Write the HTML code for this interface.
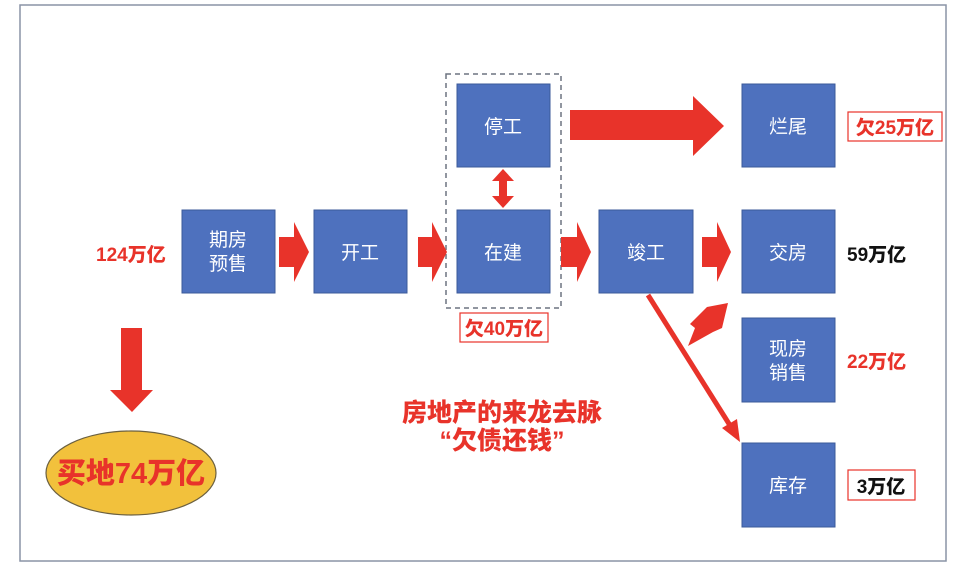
<!DOCTYPE html>
<html><head><meta charset="utf-8"><style>
body{margin:0;background:#fff;width:957px;height:568px;overflow:hidden;font-family:"Liberation Sans","Noto Sans CJK SC",sans-serif}
</style></head><body>
<svg width="957" height="568" viewBox="0 0 957 568" xmlns="http://www.w3.org/2000/svg" style="position:absolute;left:0;top:0">
<rect x="20" y="5" width="926" height="556" fill="#fff" stroke="#8a94a6" stroke-width="1.5"/>
<rect x="446" y="74" width="115" height="234" fill="none" stroke="#6d7480" stroke-width="1.5" stroke-dasharray="5,4"/>
<g fill="#4e71be" stroke="#3b5a9a" stroke-width="1">
<rect x="182" y="210" width="93" height="83"/>
<rect x="314" y="210" width="93" height="83"/>
<rect x="457" y="210" width="93" height="83"/>
<rect x="457" y="84" width="93" height="83"/>
<rect x="599" y="210" width="94" height="83"/>
<rect x="742" y="84" width="93" height="83"/>
<rect x="742" y="210" width="93" height="83"/>
<rect x="742" y="318" width="93" height="84"/>
<rect x="742" y="443" width="93" height="84"/>
</g>
<g fill="#e8332a">
<polygon points="279,237 294,237 294,222 309,252 294,282 294,267 279,267"/>
<polygon points="418,237 432,237 432,222 447,252 432,282 432,267 418,267"/>
<polygon points="561,237 577,237 577,222 591,252 577,282 577,267 561,267"/>
<polygon points="702,237 717,237 717,222 731,252 717,282 717,267 702,267"/>
<polygon points="570,110 693,110 693,96 724,126 693,156 693,140 570,140"/>
<polygon points="503,169 514,181 507,181 507,196 514,196 503,208 492,196 499,196 499,181 492,181"/>
<polygon points="121,328 142,328 142,390 153,390 132,412 110,390 121,390"/>
<polygon points="688,346 695,328 690,324 707,307 728,303 722,328 713,332"/>
</g>
<line x1="648" y1="295" x2="731" y2="427" stroke="#e8332a" stroke-width="5"/>
<polygon points="740,442 722,428 737,419" fill="#e8332a"/>
<ellipse cx="131" cy="473" rx="85" ry="42" fill="#f2c13c" stroke="#6b6040" stroke-width="1.2"/>
<rect x="460" y="313" width="88" height="29" fill="#fff" stroke="#e8332a" stroke-width="1.2"/>
<rect x="848" y="112" width="94" height="29" fill="#fff" stroke="#e8332a" stroke-width="1.2"/>
<rect x="848" y="470" width="67" height="30" fill="#fff" stroke="#e8332a" stroke-width="1.2"/>
<g font-family="Liberation Sans, Noto Sans CJK SC, sans-serif" fill="#fff" font-size="19" font-weight="normal" text-anchor="middle">
<text x="228" y="246">期房</text><text x="228" y="270">预售</text>
<text x="360" y="259">开工</text>
<text x="503" y="259">在建</text>
<text x="503" y="133">停工</text>
<text x="646" y="259">竣工</text>
<text x="788" y="133">烂尾</text>
<text x="788" y="259">交房</text>
<text x="788" y="355">现房</text><text x="788" y="379">销售</text>
<text x="788" y="492">库存</text>
</g>
<g font-family="Liberation Sans, Noto Sans CJK SC, sans-serif" font-weight="900" font-size="19">
<text x="96" y="261" fill="#e8332a">124万亿</text>
<text x="504" y="335" fill="#e8332a" text-anchor="middle">欠40万亿</text>
<text x="895" y="134" fill="#e8332a" text-anchor="middle">欠25万亿</text>
<text x="847" y="261" fill="#111">59万亿</text>
<text x="847" y="368" fill="#e8332a">22万亿</text>
<text x="881" y="493" fill="#111" text-anchor="middle">3万亿</text>
<text x="502" y="421" fill="#e8332a" text-anchor="middle" font-size="25">房地产的来龙去脉</text>
<text x="502" y="449" fill="#e8332a" text-anchor="middle" font-size="25">“欠债还钱”</text>
<text x="131" y="483" fill="#e8332a" text-anchor="middle" font-size="29">买地74万亿</text>
</g>
</svg>
</body></html>
